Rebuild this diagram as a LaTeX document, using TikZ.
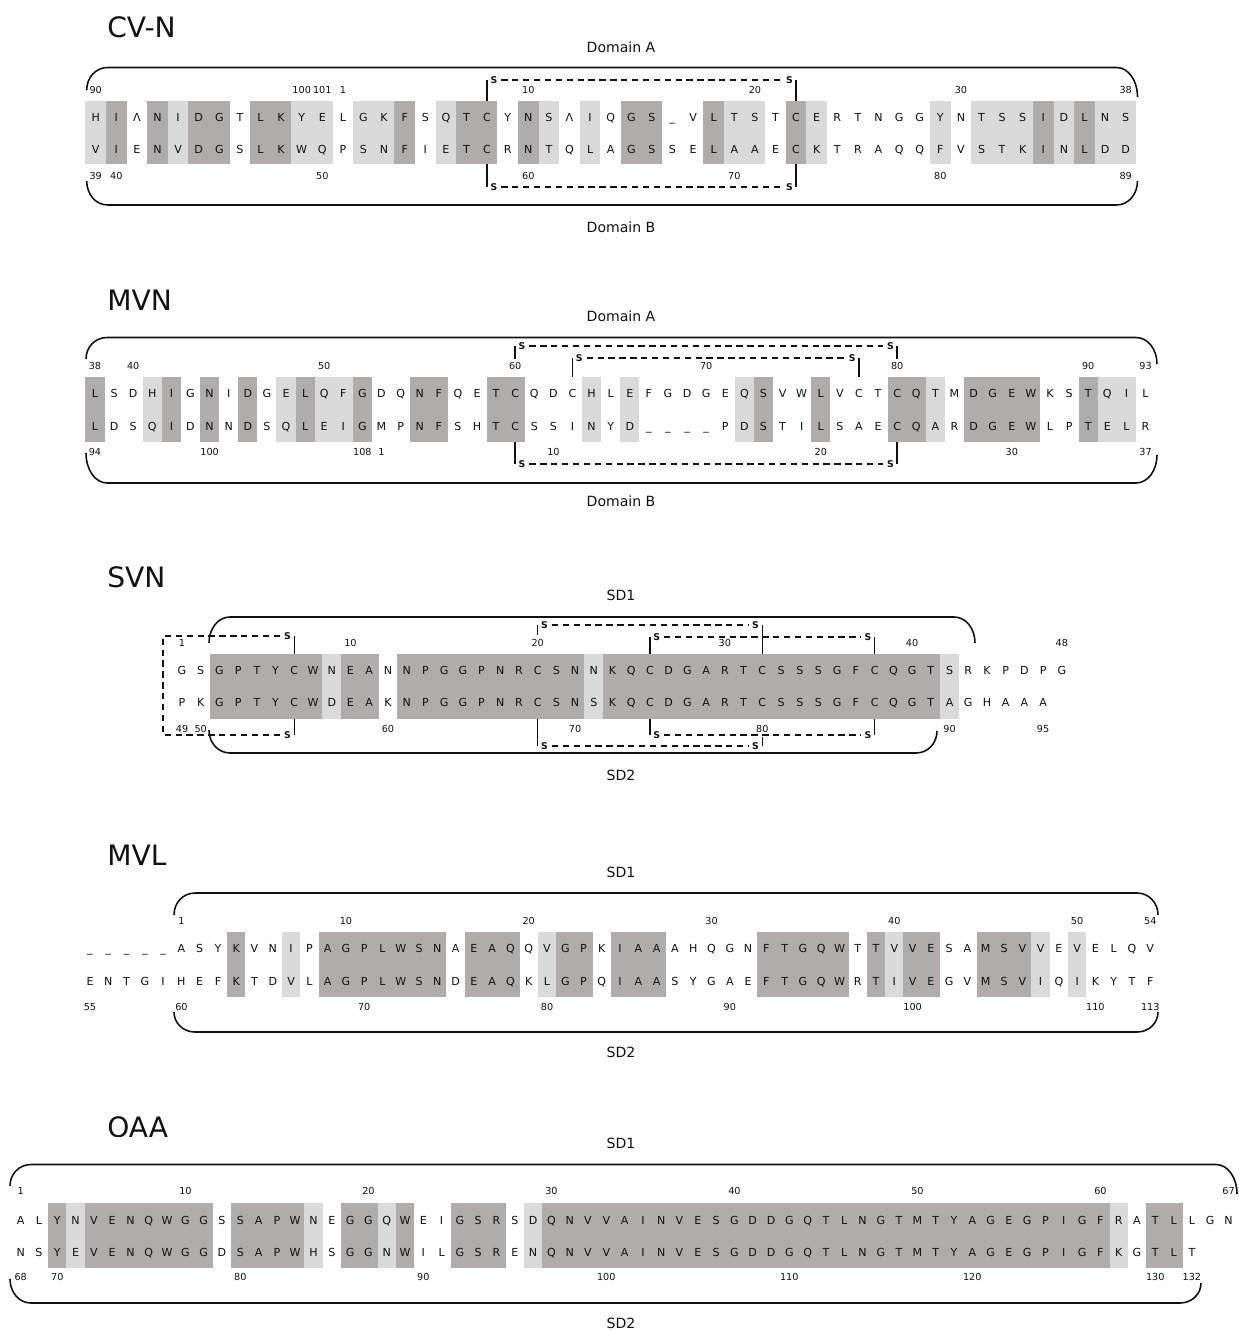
\documentclass[tikz,border=0pt]{standalone}
\usepackage{fontspec}
\setmainfont{DejaVu Sans}
\usepackage{tikz}
\usepackage{xcolor}
\usetikzlibrary{calc}
\definecolor{ink}{HTML}{111111}
\definecolor{conserved}{HTML}{B1ACAC}
\definecolor{similar}{HTML}{DADADA}
\tikzset{
  res/.style={font=\fontsize{6.3}{7}\selectfont,text=ink,inner sep=0pt,
              text height=4.6pt,text depth=0pt},
  num/.style={font=\fontsize{5.5}{6}\selectfont,text=ink,inner sep=0pt,
              text height=4pt,text depth=0pt},
  sulfur/.style={font=\fontsize{5.3}{6}\selectfont\bfseries,text=ink,inner sep=0.6pt},
  domlabel/.style={font=\fontsize{8}{9}\selectfont,text=ink,inner sep=1pt},
  protname/.style={font=\fontsize{16}{18}\selectfont,text=ink,anchor=west,inner sep=0pt},
  brace/.style={draw=ink,line width=0.9pt},
  bond/.style={draw=ink,line width=0.9pt},
  ssdash/.style={draw=ink,line width=0.75pt,dash pattern=on 3.6pt off 2.6pt,
                 shorten <=1.5pt,shorten >=1.5pt}
}
% one row of residues: prefix, x of first column, pitch, y, residues
\newcommand{\seqrow}[5]{%
  \foreach \resid [count=\resno] in {#5}
    \node[res] (#1\resno) at ({#2+(\resno-1)*#3},#4) {\resid};}
% shaded columns: x of first column, pitch, y top, y bottom, colour, ranges
\newcommand{\seqshade}[6]{%
  \foreach \cfrom/\cto in {#6}
    \fill[#5] ({#1+(\cfrom-1.5)*#2},#3) rectangle ({#1+(\cto-0.5)*#2},#4);}
% residue numbers: prefix, x of first column, pitch, y, column/number pairs
\newcommand{\seqnums}[5]{%
  \foreach \ncol/\nval in {#5}
    \node[num] (#1\ncol) at ({#2+(\ncol-1)*#3},#4) {\nval};}
% rounded domain bracket: x left, x right, y of bar, y left end, y right end
\newcommand{\dombrace}[5]{%
  \draw[brace] (#1,#4) .. controls (#1,{#3+0.45*(#4-#3)}) and ({#1+9},#3) .. ({#1+21},#3)
    -- ({#2-21},#3) .. controls ({#2-9},#3) and (#2,{#3+0.45*(#5-#3)}) .. (#2,#5);}
% disulfide bridge: Cys one, Cys two, line start one, line start two, bridge level
\newcommand{\ssbridge}[5]{%
  \coordinate (ssfrom) at (0,#3);
  \coordinate (ssto) at (0,#4);
  \coordinate (sslevel) at (0,#5);
  \draw[bond] (#1 |- ssfrom) -- (#1 |- sslevel);
  \draw[bond] (#2 |- ssto) -- (#2 |- sslevel);
  \node[sulfur,anchor=west] (#1s) at ($(#1 |- sslevel)+(2,0)$) {S};
  \node[sulfur,anchor=east] (#2s) at ($(#2 |- sslevel)+(-2,0)$) {S};
  \draw[ssdash] (#1s.east) -- (#2s.west);}

\begin{document}
\begin{tikzpicture}[x=0.02cm,y=-0.02cm]
  \useasboundingbox (0,0) rectangle (1239,1331);

  % ---------------- CV-N ----------------
  \node[protname] (cvnname) at (107,27) {CV-N};
  \seqshade{95.7}{20.6}{101}{164.5}{conserved}{2/2,4/4,6/7,9/10,16/16,19/20,22/22,27/28,31/31,35/35,47/47,49/49}
  \seqshade{95.7}{20.6}{101}{164.5}{similar}{1/1,5/5,11/12,14/15,18/18,23/23,25/25,32/33,36/36,42/42,44/46,48/48,50/51}
  \seqrow{cvnt}{95.7}{20.6}{117}{H,I,Λ,N,I,D,G,T,L,K,Y,E,L,G,K,F,S,Q,T,C,Y,N,S,Λ,I,Q,G,S,\_,V,L,T,S,T,C,E,R,T,N,G,G,Y,N,T,S,S,I,D,L,N,S}
  \seqrow{cvnb}{95.7}{20.6}{149.5}{V,I,E,N,V,D,G,S,L,K,W,Q,P,S,N,F,I,E,T,C,R,N,T,Q,L,A,G,S,S,E,L,A,A,E,C,K,T,R,A,Q,Q,F,V,S,T,K,I,N,L,D,D}
  \seqnums{cvnnt}{95.7}{20.6}{89.5}{1/90,11/100,12/101,13/1,22/10,33/20,43/30,51/38}
  \seqnums{cvnnb}{95.7}{20.6}{175.5}{1/39,2/40,12/50,22/60,32/70,42/80,51/89}
  \ssbridge{cvnt20}{cvnt35}{101}{101}{80}
  \ssbridge{cvnb20}{cvnb35}{164.5}{164.5}{187}
  \dombrace{86.7}{1137.5}{67.5}{90}{97}
  \dombrace{86.7}{1137.5}{205}{181}{181}
  \node[domlabel] (cvndoma) at (621,47) {Domain A};
  \node[domlabel] (cvndomb) at (621,227) {Domain B};

  % ---------------- MVN ----------------
  \node[protname] (mvnname) at (107,300) {MVN};
  \seqshade{95}{19.1}{377}{441.5}{conserved}{1/1,5/5,7/7,9/9,12/12,15/15,18/19,22/23,36/36,39/39,43/44,47/50,53/53}
  \seqshade{95}{19.1}{377}{441.5}{similar}{4/4,11/11,13/14,27/27,29/29,35/35,45/45,54/55}
  \seqrow{mvnt}{95}{19.1}{393.5}{L,S,D,H,I,G,N,I,D,G,E,L,Q,F,G,D,Q,N,F,Q,E,T,C,Q,D,C,H,L,E,F,G,D,G,E,Q,S,V,W,L,V,C,T,C,Q,T,M,D,G,E,W,K,S,T,Q,I,L}
  \seqrow{mvnb}{95}{19.1}{426}{L,D,S,Q,I,D,N,N,D,S,Q,L,E,I,G,M,P,N,F,S,H,T,C,S,S,I,N,Y,D,\_,\_,\_,\_,P,D,S,T,I,L,S,A,E,C,Q,A,R,D,G,E,W,L,P,T,E,L,R}
  \seqnums{mvnnt}{95}{19.1}{366}{1/38,3/40,13/50,23/60,33/70,43/80,53/90,56/93}
  \seqnums{mvnnb}{95}{19.1}{452}{1/94,7/100,15/108,16/1,25/10,39/20,49/30,56/37}
  \ssbridge{mvnt23}{mvnt43}{359}{359}{346}
  \ssbridge{mvnt26}{mvnt41}{377}{377}{358}
  \ssbridge{mvnb23}{mvnb43}{441.5}{441.5}{464}
  \dombrace{86}{1157}{337.5}{359}{364}
  \dombrace{86}{1157}{483}{453}{455}
  \node[domlabel] (mvndoma) at (621,316) {Domain A};
  \node[domlabel] (mvndomb) at (621,501) {Domain B};

  % ---------------- SVN ----------------
  \node[protname] (svnname) at (107,577) {SVN};
  \seqshade{182}{18.72}{653.5}{718.5}{conserved}{3/8,10/11,13/22,24/41}
  \seqshade{182}{18.72}{653.5}{718.5}{similar}{9/9,23/23,42/42}
  \seqrow{svnt}{182}{18.72}{670}{G,S,G,P,T,Y,C,W,N,E,A,N,N,P,G,G,P,N,R,C,S,N,N,K,Q,C,D,G,A,R,T,C,S,S,S,G,F,C,Q,G,T,S,R,K,P,D,P,G}
  \seqrow{svnb}{182}{18.72}{702.5}{P,K,G,P,T,Y,C,W,D,E,A,K,N,P,G,G,P,N,R,C,S,N,S,K,Q,C,D,G,A,R,T,C,S,S,S,G,F,C,Q,G,T,A,G,H,A,A,A}
  \seqnums{svnnt}{182}{18.72}{643}{1/1,10/10,20/20,30/30,40/40,48/48}
  \seqnums{svnnb}{182}{18.72}{728.5}{1/49,2/50,12/60,22/70,32/80,42/90,47/95}
  \ssbridge{svnt20}{svnt32}{635}{653.5}{625}
  \ssbridge{svnt26}{svnt38}{653.5}{653.5}{637}
  \ssbridge{svnb26}{svnb38}{718.5}{718.5}{735}
  \ssbridge{svnb20}{svnb32}{718.5}{737}{746}
  % loop from the first Cys round to the second chain
  \coordinate (svnup) at (0,653.5);
  \coordinate (svndown) at (0,718.5);
  \coordinate (looptop) at (163,636);
  \coordinate (loopbot) at (163,735);
  \draw[bond] (svnt7 |- svnup) -- (svnt7 |- looptop);
  \draw[bond] (svnb7 |- svndown) -- (svnb7 |- loopbot);
  \node[sulfur,anchor=east] (svnt7s) at ($(svnt7 |- looptop)+(-2,0)$) {S};
  \node[sulfur,anchor=east] (svnb7s) at ($(svnb7 |- loopbot)+(-2,0)$) {S};
  \draw[ssdash,shorten >=0pt] (svnt7s.west) -- (looptop) -- (loopbot) -- (svnb7s.west);
  \dombrace{209}{975}{617}{643}{643}
  \dombrace{209}{937}{753}{730}{731}
  \node[domlabel] (svnsd1) at (621,595) {SD1};
  \node[domlabel] (svnsd2) at (621,775) {SD2};

  % ---------------- MVL ----------------
  \node[protname] (mvlname) at (107,855) {MVL};
  \seqshade{90}{18.28}{932}{997}{conserved}{9/9,14/20,22/24,27/28,30/32,38/42,44/44,46/47,50/52}
  \seqshade{90}{18.28}{932}{997}{similar}{12/12,26/26,45/45,53/53,55/55}
  \seqrow{mvlt}{90}{18.28}{948.5}{\_,\_,\_,\_,\_,A,S,Y,K,V,N,I,P,A,G,P,L,W,S,N,A,E,A,Q,Q,V,G,P,K,I,A,A,A,H,Q,G,N,F,T,G,Q,W,T,T,V,V,E,S,A,M,S,V,V,E,V,E,L,Q,V}
  \seqrow{mvlb}{90}{18.28}{981}{E,N,T,G,I,H,E,F,K,T,D,V,L,A,G,P,L,W,S,N,D,E,A,Q,K,L,G,P,Q,I,A,A,S,Y,G,A,E,F,T,G,Q,W,R,T,I,V,E,G,V,M,S,V,I,Q,I,K,Y,T,F}
  \seqnums{mvlnt}{90}{18.28}{921}{6/1,15/10,25/20,35/30,45/40,55/50,59/54}
  \seqnums{mvlnb}{90}{18.28}{1007}{1/55,6/60,16/70,26/80,36/90,46/100,56/110,59/113}
  \dombrace{174}{1158}{893}{915}{915}
  \dombrace{174}{1158}{1032}{1012}{1012}
  \node[domlabel] (mvlsd1) at (621,872) {SD1};
  \node[domlabel] (mvlsd2) at (621,1052) {SD2};

  % ---------------- OAA ----------------
  \begin{scope}
    \clip (100,1100) rectangle (200,1136);
    \node[protname] (oaaname) at (107,1127) {OAA};
  \end{scope}
  \seqshade{20.7}{18.3}{1203}{1267.5}{conserved}{3/3,5/11,13/16,19/20,22/22,25/27,30/60,63/64}
  \seqshade{20.7}{18.3}{1203}{1267.5}{similar}{4/4,17/17,21/21,29/29,61/61}
  \seqrow{oaat}{20.7}{18.3}{1220}{A,L,Y,N,V,E,N,Q,W,G,G,S,S,A,P,W,N,E,G,G,Q,W,E,I,G,S,R,S,D,Q,N,V,V,A,I,N,V,E,S,G,D,D,G,Q,T,L,N,G,T,M,T,Y,A,G,E,G,P,I,G,F,R,A,T,L,L,G,N}
  \seqrow{oaab}{20.7}{18.3}{1252.5}{N,S,Y,E,V,E,N,Q,W,G,G,D,S,A,P,W,H,S,G,G,N,W,I,L,G,S,R,E,N,Q,N,V,V,A,I,N,V,E,S,G,D,D,G,Q,T,L,N,G,T,M,T,Y,A,G,E,G,P,I,G,F,K,G,T,L,T}
  \seqnums{oaant}{20.7}{18.3}{1191}{1/1,10/10,20/20,30/30,40/40,50/50,60/60,67/67}
  \seqnums{oaanb}{20.7}{18.3}{1277}{1/68,3/70,13/80,23/90,33/100,43/110,53/120,63/130,65/132}
  \dombrace{10}{1237}{1164.5}{1186}{1194}
  \dombrace{10}{1201}{1303}{1279}{1283}
  \node[domlabel] (oaasd1) at (621,1143) {SD1};
  \node[domlabel] (oaasd2) at (621,1323) {SD2};
\end{tikzpicture}
\end{document}
